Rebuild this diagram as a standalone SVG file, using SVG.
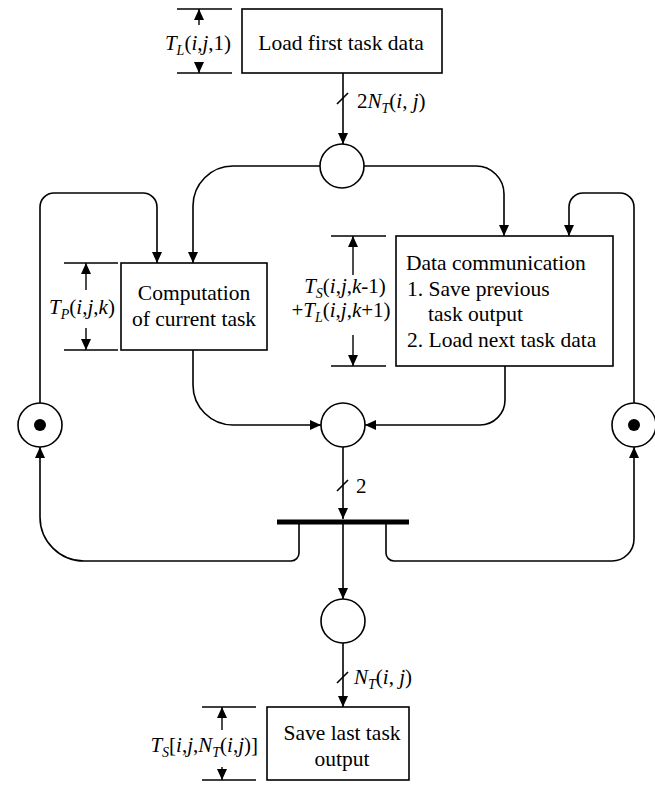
<svg xmlns="http://www.w3.org/2000/svg" width="655" height="785" viewBox="0 0 655 785" font-family="'Liberation Serif', 'DejaVu Serif', 'Noto Serif', serif">
<style>
.box{fill:#fff;stroke:#000;stroke-width:1.6}
.pl{fill:#fff;stroke:#000;stroke-width:1.6}
.ln{fill:none;stroke:#000;stroke-width:1.6}
.dim{fill:none;stroke:#000;stroke-width:1.4}
.t{font-family:'Liberation Serif','DejaVu Serif','Noto Serif',serif;font-size:21.5px;fill:#000}
.lbl{font-family:'Liberation Serif','DejaVu Serif','Noto Serif',serif;font-size:21px;fill:#000}
.it{font-style:italic}
.sub{font-size:14px;font-style:italic}
</style>
<defs>
<marker id="ah" markerUnits="userSpaceOnUse" markerWidth="12" markerHeight="10" refX="11" refY="5" orient="auto">
<path d="M0,0 L11,5 L0,10 Z" fill="#000"/>
</marker>
</defs>
<rect width="655" height="785" fill="#fff"/>

<g id="connectors">
<path class="ln" d="M343,73 V144" marker-end="url(#ah)"/>
<line class="ln" x1="337" y1="104" x2="348" y2="93"/>
<path class="ln" d="M320,166 H233 A40,40 0 0 0 193,206 V263" marker-end="url(#ah)"/>
<path class="ln" d="M364,166 H476 A28,28 0 0 1 504,194 V236" marker-end="url(#ah)"/>
<path class="ln" d="M40,403 V207 A14,14 0 0 1 54,193 H143 A14,14 0 0 1 157,207 V263" marker-end="url(#ah)"/>
<path class="ln" d="M634,403 V207 A14,14 0 0 0 620,193 H583 A14,14 0 0 0 569,207 V236" marker-end="url(#ah)"/>
<path class="ln" d="M193,350 V385 A40,40 0 0 0 233,425 H321" marker-end="url(#ah)"/>
<path class="ln" d="M505,366 V400 A25,25 0 0 1 480,425 H365" marker-end="url(#ah)"/>
<path class="ln" d="M343,447 V519" marker-end="url(#ah)"/>
<line class="ln" x1="337" y1="491" x2="348" y2="480"/>
<path class="ln" d="M343,524 V599" marker-end="url(#ah)"/>
<path class="ln" d="M299,524 V553 A8,8 0 0 1 291,561 H84 A44,44 0 0 1 40,517 V447" marker-end="url(#ah)"/>
<path class="ln" d="M386,524 V553 A8,8 0 0 0 394,561 H612 A22,22 0 0 0 634,539 V447" marker-end="url(#ah)"/>
<path class="ln" d="M343,643 V707" marker-end="url(#ah)"/>
<line class="ln" x1="337" y1="683" x2="348" y2="672"/>
</g>

<g id="load-first">
<rect class="box" x="242" y="9" width="200" height="64"/>
<text class="t" x="341" y="50" text-anchor="middle">Load first task data</text>
</g>

<g id="dim-TL">
<line class="dim" x1="177" y1="9" x2="232" y2="9"/>
<line class="dim" x1="177" y1="73" x2="232" y2="73"/>
<path class="dim" d="M199,25 V9" marker-end="url(#ah)"/>
<path class="dim" d="M199,62 V73" marker-end="url(#ah)"/>
<text class="lbl" x="198" y="50" text-anchor="middle"><tspan class="it">T</tspan><tspan class="sub" dy="5">L</tspan><tspan dy="-5">(</tspan><tspan class="it">i</tspan>,<tspan class="it">j</tspan>,1)</text>
</g>

<g id="label-2NT">
<text class="lbl" x="357" y="108">2<tspan class="it">N</tspan><tspan class="sub" dy="5">T</tspan><tspan dy="-5">(</tspan><tspan class="it">i</tspan>, <tspan class="it">j</tspan>)</text>
</g>

<g id="place-1">
<circle class="pl" cx="342" cy="166" r="22"/>
</g>

<g id="computation">
<rect class="box" x="121" y="263" width="146" height="87"/>
<text class="t" x="194" y="300" text-anchor="middle">Computation</text>
<text class="t" x="194" y="326" text-anchor="middle">of current task</text>
</g>

<g id="dim-TP">
<line class="dim" x1="64" y1="263" x2="118" y2="263"/>
<line class="dim" x1="64" y1="350" x2="118" y2="350"/>
<path class="dim" d="M86,290 V263" marker-end="url(#ah)"/>
<path class="dim" d="M86,328 V350" marker-end="url(#ah)"/>
<text class="lbl" x="82" y="314" text-anchor="middle"><tspan class="it">T</tspan><tspan class="sub" dy="5">P</tspan><tspan dy="-5">(</tspan><tspan class="it">i</tspan>,<tspan class="it">j</tspan>,<tspan class="it">k</tspan>)</text>
</g>

<g id="data-communication">
<rect class="box" x="396" y="236" width="217" height="130"/>
<text class="t" x="406" y="270">Data communication</text>
<text class="t" x="407" y="296">1. Save previous</text>
<text class="t" x="428" y="321">task output</text>
<text class="t" x="407" y="347">2. Load next task data</text>
</g>

<g id="dim-TS">
<line class="dim" x1="331" y1="236" x2="386" y2="236"/>
<line class="dim" x1="331" y1="366" x2="386" y2="366"/>
<path class="dim" d="M353,275 V236" marker-end="url(#ah)"/>
<path class="dim" d="M353,335 V366" marker-end="url(#ah)"/>
<text class="lbl" x="345" y="293" text-anchor="middle"><tspan class="it">T</tspan><tspan class="sub" dy="5">S</tspan><tspan dy="-5">(</tspan><tspan class="it">i</tspan>,<tspan class="it">j</tspan>,<tspan class="it">k</tspan>-1)</text>
<text class="lbl" x="341" y="317" text-anchor="middle">+<tspan class="it">T</tspan><tspan class="sub" dy="5">L</tspan><tspan dy="-5">(</tspan><tspan class="it">i</tspan>,<tspan class="it">j</tspan>,<tspan class="it">k</tspan>+1)</text>
</g>

<g id="token-left">
<circle class="pl" cx="40" cy="425" r="22"/>
<circle cx="40" cy="425" r="6" fill="#000"/>
</g>

<g id="token-right">
<circle class="pl" cx="634" cy="425" r="22"/>
<circle cx="634" cy="425" r="6" fill="#000"/>
</g>

<g id="place-2">
<circle class="pl" cx="343" cy="425" r="22"/>
</g>

<g id="label-2">
<text class="lbl" x="356" y="493">2</text>
</g>

<g id="transition">
<rect x="277" y="519.5" width="132" height="5" fill="#000"/>
</g>

<g id="place-3">
<circle class="pl" cx="343" cy="621" r="22"/>
</g>

<g id="label-NT">
<text class="lbl" x="354" y="684"><tspan class="it">N</tspan><tspan class="sub" dy="5">T</tspan><tspan dy="-5">(</tspan><tspan class="it">i</tspan>, <tspan class="it">j</tspan>)</text>
</g>

<g id="save-last">
<rect class="box" x="267" y="707" width="142" height="73"/>
<text class="t" x="342" y="740" text-anchor="middle">Save last task</text>
<text class="t" x="342" y="766" text-anchor="middle">output</text>
</g>

<g id="dim-TS-last">
<line class="dim" x1="202" y1="707" x2="256" y2="707"/>
<line class="dim" x1="202" y1="780" x2="256" y2="780"/>
<path class="dim" d="M222,730 V707" marker-end="url(#ah)"/>
<path class="dim" d="M222,767 V780" marker-end="url(#ah)"/>
<text class="lbl" x="258" y="752" text-anchor="end"><tspan class="it">T</tspan><tspan class="sub" dy="5">S</tspan><tspan dy="-5">[</tspan><tspan class="it">i</tspan>,<tspan class="it">j</tspan>,<tspan class="it">N</tspan><tspan class="sub" dy="5">T</tspan><tspan dy="-5">(</tspan><tspan class="it">i</tspan>,<tspan class="it">j</tspan>)]</text>
</g>
</svg>
